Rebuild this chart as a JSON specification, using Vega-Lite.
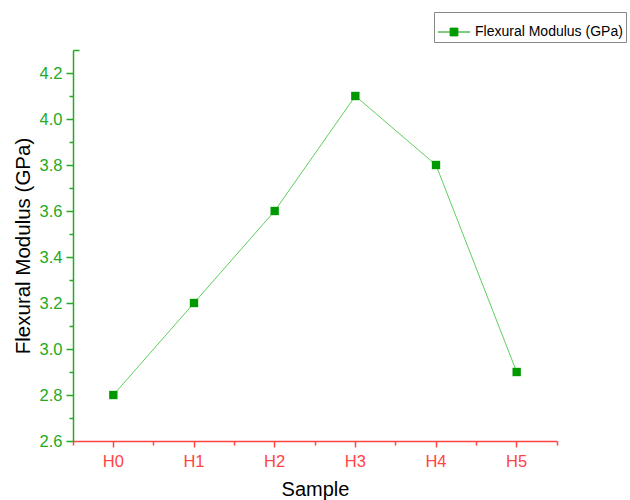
{
  "$schema": "https://vega.github.io/schema/vega-lite/v6.json",
  "width": 484,
  "height": 391,
  "autosize": {"type": "none"},
  "padding": {"left": 73, "top": 50, "right": 73, "bottom": 59},
  "background": "white",
  "config": {
    "view": {"stroke": null},
    "font": "Liberation Sans",
    "axis": {"grid": false, "labelFont": "Liberation Sans", "titleFont": "Liberation Sans", "titleFontWeight": "normal"}
  },
  "data": {
    "values": [
      {"Sample": "H0", "modulus": 2.8},
      {"Sample": "H1", "modulus": 3.2},
      {"Sample": "H2", "modulus": 3.6},
      {"Sample": "H3", "modulus": 4.1},
      {"Sample": "H4", "modulus": 3.8},
      {"Sample": "H5", "modulus": 2.9}
    ]
  },
  "resolve": {"axis": {"x": "independent", "y": "independent"}},
  "layer": [
    {
      "mark": {"type": "line", "color": "#5fcf5f", "strokeWidth": 1},
      "encoding": {
        "x": {
          "field": "Sample", "type": "ordinal",
          "scale": {"type": "band", "paddingInner": 0, "paddingOuter": 0},
          "axis": {
            "orient": "bottom",
            "title": "Sample", "titleFontSize": 20, "titleColor": "#000000", "titlePadding": 10,
            "labelAngle": 0, "labelColor": "#ff4444", "labelFontSize": 16.5, "labelPadding": 6,
            "domainColor": "#ff4444", "domainWidth": 1.5, "tickColor": "#ff4444", "tickWidth": 1.5,
            "tickSize": 6, "bandPosition": 0.5
          }
        },
        "y": {
          "field": "modulus", "type": "quantitative",
          "scale": {"domain": [2.6, 4.3], "nice": false, "zero": false},
          "axis": {
            "orient": "left",
            "title": "Flexural Modulus (GPa)", "titleFontSize": 20.5, "titleColor": "#000000", "titlePadding": 6,
            "values": [2.6, 2.8, 3.0, 3.2, 3.4, 3.6, 3.8, 4.0, 4.2],
            "format": ".1f", "labelColor": "#22aa22", "labelFontSize": 16.5, "labelPadding": 4,
            "domainColor": "#22aa22", "domainWidth": 1.5, "tickColor": "#22aa22", "tickWidth": 1.5, "tickSize": 7
          }
        }
      }
    },
    {
      "mark": {"type": "point", "shape": "square", "filled": true, "size": 70, "opacity": 1},
      "encoding": {
        "x": {
          "field": "Sample", "type": "ordinal",
          "axis": {
            "orient": "bottom",
            "title": null, "labels": false, "domain": false, "tickColor": "#ff4444", "tickWidth": 1.5,
            "tickSize": 4, "bandPosition": 0
          }
        },
        "y": {
          "field": "modulus", "type": "quantitative",
          "axis": {
            "orient": "left",
            "title": null, "labels": false, "domain": false,
            "values": [2.7, 2.9, 3.1, 3.3, 3.5, 3.7, 3.9, 4.1],
            "tickColor": "#22aa22", "tickWidth": 1.5, "tickSize": 4
          }
        },
        "color": {
          "datum": "Flexural Modulus (GPa)",
          "scale": {"range": ["#009900"]},
          "legend": {
            "title": null, "orient": "none", "legendX": 361, "legendY": -38,
            "labelFontSize": 14, "labelColor": "#000000", "labelFont": "Liberation Sans", "labelOffset": 4,
            "strokeColor": "#888888", "padding": 3, "symbolSize": 1050, "symbolStrokeWidth": 1,
            "symbolType": "M-1,0H-0.24M0.24,0H1M-0.24,-0.24H0.24V0.24H-0.24Z",
            "symbolStrokeColor": "#009900", "symbolFillColor": "#009900"
          }
        }
      }
    },
    {
      "mark": {"type": "point", "opacity": 0},
      "encoding": {
        "x": {
          "field": "Sample", "type": "ordinal",
          "axis": {
            "orient": "bottom",
            "title": null, "labels": false, "domain": false, "values": ["H5"], "tickColor": "#ff4444", "tickWidth": 1.5,
            "tickSize": 4, "bandPosition": 1
          }
        },
        "y": {
          "field": "modulus", "type": "quantitative",
          "axis": {
            "orient": "left",
            "title": null, "labels": false, "domain": false,
            "values": [4.3], "tickColor": "#22aa22", "tickWidth": 1.5, "tickSize": -6
          }
        }
      }
    }
  ]
}
